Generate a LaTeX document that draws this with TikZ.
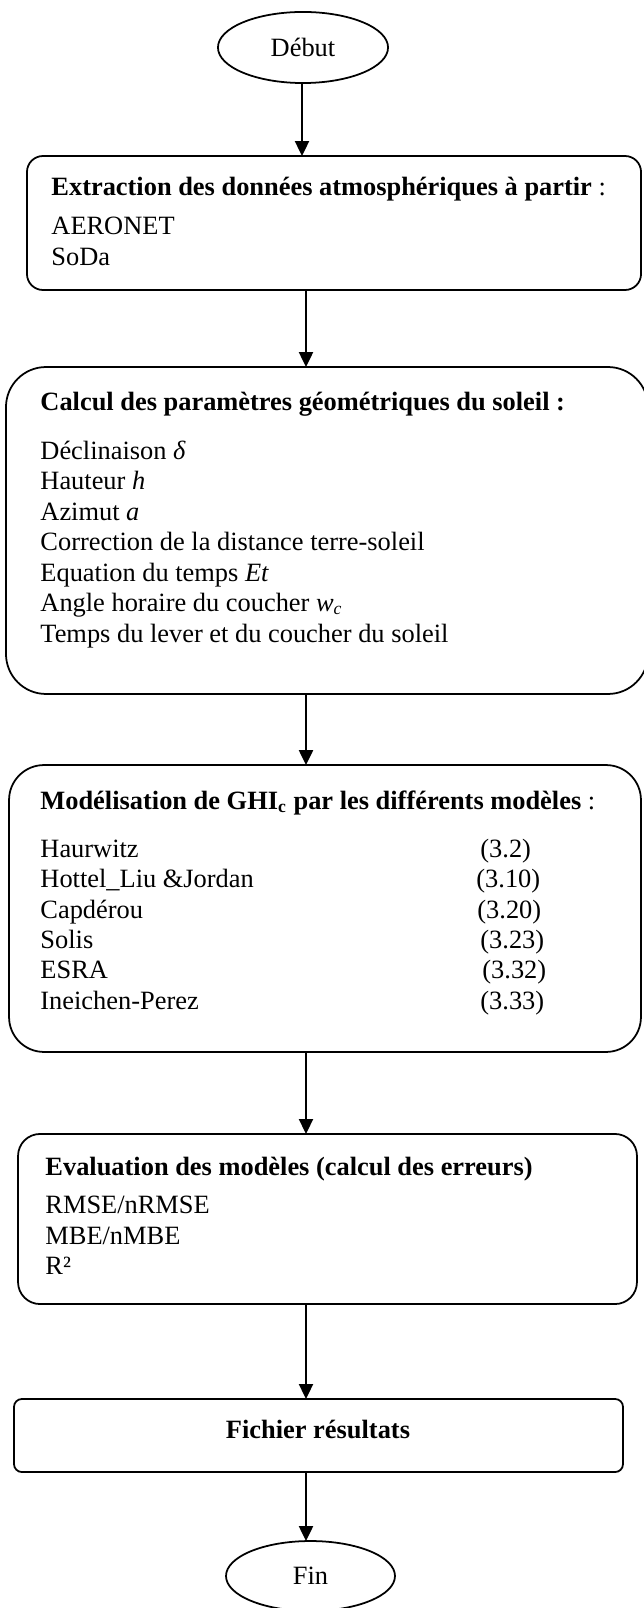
\documentclass[tikz,border=0pt]{standalone}
\usepackage{fontspec}
\setmainfont{Liberation Serif}
\usetikzlibrary{shapes.geometric,arrows.meta}
\begin{document}
\begin{tikzpicture}[x=0.4545pt,y=-0.4545pt,
  box/.style={draw,line width=0.8pt,inner sep=0pt,outer sep=0pt},
  txt/.style={anchor=base west,inner sep=0pt,font=\fontsize{12}{14}\selectfont},
  term/.style={draw,ellipse,line width=0.8pt,inner sep=0pt,outer sep=0pt,font=\fontsize{12}{14}\selectfont},
  arr/.style={line width=0.9pt,-{Triangle[length=6.8pt,width=6.4pt]}}]
\useasboundingbox[fill=white] (0,0) rectangle (643,1608);
% terminals
\node[term,minimum width=77.3pt,minimum height=32.3pt] (debut) at (303,47.5) {Début};
\node[term,minimum width=76.8pt,minimum height=31.8pt] (fin) at (310.5,1576) {Fin};
% boxes
\node[box,rounded corners=7.3pt,minimum width=279.1pt,minimum height=60.9pt] (b1) at (334,223) {};
\node[box,rounded corners=18.2pt,minimum width=291.8pt,minimum height=148.6pt] (b2) at (327,530.5) {};
\node[box,rounded corners=15.9pt,minimum width=287.2pt,minimum height=130.4pt] (b3) at (325,908.5) {};
\node[box,rounded corners=10pt,minimum width=281.3pt,minimum height=77.3pt] (b4) at (327.5,1219) {};
\node[box,rounded corners=3.6pt,minimum width=276.8pt,minimum height=33.2pt] (b5) at (318.5,1435.5) {};
% box 1 text
\node[txt] (t1a) at (51,196) {\textbf{Extraction des données atmosphériques à partir} :};
\node[txt] (t1b) at (51,235) {AERONET};
\node[txt] (t1c) at (51,266) {SoDa};
% box 2 text
\node[txt] (t2a) at (40,411) {\textbf{Calcul des paramètres géométriques du soleil :}};
\node[txt] (t2b) at (40,459) {Déclinaison \textit{δ}};
\node[txt] (t2c) at (40,489) {Hauteur \textit{h}};
\node[txt] (t2d) at (40,520) {Azimut \textit{a}};
\node[txt] (t2e) at (40,550) {Correction de la distance terre-soleil};
\node[txt] (t2f) at (40,581) {Equation du temps \textit{Et}};
\node[txt] (t2g) at (40,611) {Angle horaire du coucher \textit{w}\textsubscript{\textit{c}}};
\node[txt] (t2h) at (40,642) {Temps du lever et du coucher du soleil};
% box 3 text
\node[txt] (t3a) at (40,809) {\textbf{Modélisation de GHI\textsubscript{c} par les différents modèles} :};
\node[txt] (t3b) at (40,857) {Haurwitz};
\node[txt] (t3c) at (40,887) {Hottel\_Liu \&Jordan};
\node[txt] (t3d) at (40,918) {Capdérou};
\node[txt] (t3e) at (40,948) {Solis};
\node[txt] (t3f) at (40,978) {ESRA};
\node[txt] (t3g) at (40,1009) {Ineichen-Perez};
\node[txt] (n3b) at (480,857) {(3.2)};
\node[txt] (n3c) at (476,887) {(3.10)};
\node[txt] (n3d) at (477,918) {(3.20)};
\node[txt] (n3e) at (480,948) {(3.23)};
\node[txt] (n3f) at (482,978) {(3.32)};
\node[txt] (n3g) at (480,1009) {(3.33)};
% box 4 text
\node[txt] (t4a) at (45,1175) {\textbf{Evaluation des modèles (calcul des erreurs)}};
\node[txt] (t4b) at (45,1213) {RMSE/nRMSE};
\node[txt] (t4c) at (45,1244) {MBE/nMBE};
\node[txt] (t4d) at (45,1274) {R²};
% box 5 text
\node[txt,anchor=base] (t5a) at (318,1438) {\textbf{Fichier résultats}};
% connectors
\coordinate (col) at (306,0);
\coordinate (col2) at (302,0);
\draw[arr] (col2 |- debut.south) -- (col2 |- b1.north);
\draw[arr] (col |- b1.south) -- (col |- b2.north);
\draw[arr] (col |- b2.south) -- (col |- b3.north);
\draw[arr] (col |- b3.south) -- (col |- b4.north);
\draw[arr] (col |- b4.south) -- (col |- b5.north);
\draw[arr] (col |- b5.south) -- (col |- fin.north);
\end{tikzpicture}
\end{document}
